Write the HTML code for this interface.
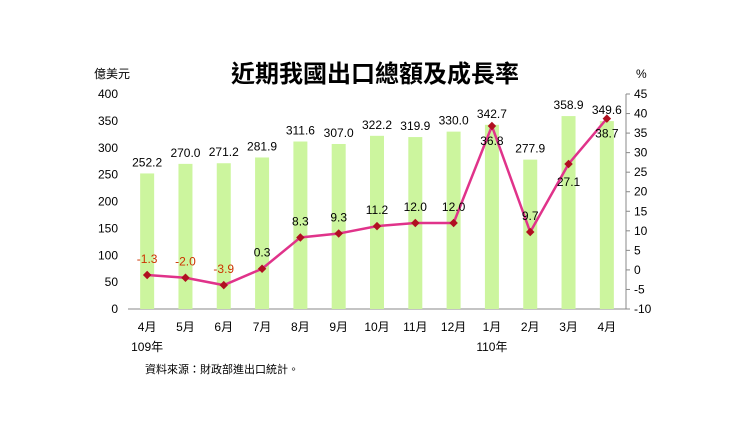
<!DOCTYPE html>
<html><head><meta charset="utf-8"><style>
body{margin:0;background:#fff;}
svg text{font-family:"Liberation Sans","Noto Sans CJK TC",sans-serif;}
</style></head><body>
<svg width="750" height="422" xmlns="http://www.w3.org/2000/svg" id="chart">
<text x="375" y="82" text-anchor="middle" font-size="24" font-weight="bold" fill="#000">近期我國出口總額及成長率</text>
<text x="94" y="78" font-size="12" fill="#000">億美元</text>
<text x="636" y="78" font-size="12" fill="#000">%</text>
<text x="145" y="373" font-size="11" fill="#000">資料來源：財政部進出口統計。</text>
<g id="g"></g>
</svg>
<script>
const categories=["4月","5月","6月","7月","8月","9月","10月","11月","12月","1月","2月","3月","4月"];
const exportValues=[252.2,270.0,271.2,281.9,311.6,307.0,322.2,319.9,330.0,342.7,277.9,358.9,349.6];
const growthValues=[-1.3,-2.0,-3.9,0.3,8.3,9.3,11.2,12.0,12.0,36.8,9.7,27.1,38.7];
const leftTicks=[0,50,100,150,200,250,300,350,400];
const rightTicks=[-10,-5,0,5,10,15,20,25,30,35,40,45];
const NS="http://www.w3.org/2000/svg";
const g=document.getElementById('g');
const x0=128,x1=626,yTop=94,yBot=309;
const step=(x1-x0)/categories.length;
const xc=i=>x0+step*(i+0.5);
const yL=v=>yBot-(v/400)*(yBot-yTop);
const yR=v=>yBot-((v+10)/55)*(yBot-yTop);
function mk(t,a){const e=document.createElementNS(NS,t);for(const k in a)e.setAttribute(k,a[k]);g.appendChild(e);return e;}
// axes
let ax=mk('line',{x1:x0,y1:yBot,x2:x1,y2:yBot,stroke:'#888','stroke-width':1});


let ar=mk('line',{x1:x1,y1:yTop,x2:x1,y2:yBot,stroke:'#888','stroke-width':1});


leftTicks.forEach(v=>{
  const t=mk('text',{x:x0-10,y:yL(v)+4,'text-anchor':'end','font-size':12,fill:'#000'});t.textContent=v;
  
  
});
rightTicks.forEach(v=>{
  mk('line',{x1:x1,y1:yR(v),x2:x1+4,y2:yR(v),stroke:'#888'});
  const t=mk('text',{x:x1+8,y:yR(v)+4,'font-size':12,fill:'#000'});t.textContent=v;
  
  
});
exportValues.forEach((v,i)=>{
  const b=mk('rect',{x:xc(i)-7,y:yL(v),width:14,height:yBot-yL(v),fill:'#ccf59e'});
  
  
  const t=mk('text',{x:xc(i),y:yL(v)-7,'text-anchor':'middle','font-size':12,fill:'#000'});t.textContent=v.toFixed(1);
  
  
  const c=mk('text',{x:xc(i),y:yBot+22,'text-anchor':'middle','font-size':12,fill:'#000'});c.textContent=categories[i];
  
  
});
[[0,"109年"],[9,"110年"]].forEach(([i,s])=>{
  const t=mk('text',{x:xc(i),y:yBot+42,'text-anchor':'middle','font-size':12,fill:'#000'});t.textContent=s;
  
  
});
const pl=mk('polyline',{points:growthValues.map((v,i)=>xc(i)+','+yR(v)).join(' '),fill:'none',stroke:'#e0338a','stroke-width':2.5});


growthValues.forEach((v,i)=>{
  const m=mk('rect',{x:xc(i)-3,y:yR(v)-3,width:6,height:6,fill:'#b01020',transform:`rotate(45 ${xc(i)} ${yR(v)})`});
  
  
  const below=(i>=9&&i!==10);
  const ly=below? yR(v)+ (i===11?22:19) : yR(v)-12;
  const t=mk('text',{x:xc(i),y:ly,'text-anchor':'middle','font-size':12,fill:v<0?'#cc3300':'#000'});t.textContent=v.toFixed(1);
  
  
});
</script>
</body></html>
